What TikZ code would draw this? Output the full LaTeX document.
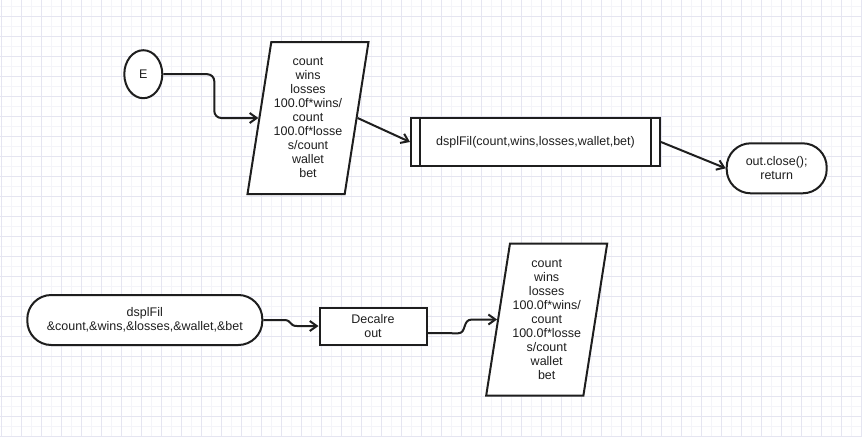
\documentclass[tikz,border=0pt]{standalone}
\usepackage{fontspec}
\setmainfont{Liberation Sans}
\usetikzlibrary{shapes.geometric,arrows.meta}
\definecolor{gridmajor}{RGB}{229,229,241}
\definecolor{gridminor}{RGB}{244,244,249}
\definecolor{ink}{RGB}{30,30,30}
\begin{document}
\begin{tikzpicture}[x=1pt,y=-1pt,
  every node/.style={font=\fontsize{12.5}{14}\selectfont, text=ink, align=center},
  shp/.style={draw=ink, line width=2pt, fill=white, inner sep=0pt},
  iobox/.style={shp, trapezium, trapezium left angle=78.8, trapezium right angle=101.2,
    trapezium stretches body, minimum width=121pt, minimum height=152pt},
  procbox/.style={shp, rectangle},
  termbox/.style={shp, rectangle, rounded corners=24pt, minimum height=50pt},
  startnode/.style={shp, ellipse, minimum width=38pt, minimum height=48pt},
  edge/.style={draw=ink, line width=2pt, -{Straight Barb[length=7pt,width=10pt]}}
]
% paper and grid
\useasboundingbox (0,0) rectangle (862,437);
\fill[white] (0,0) rectangle (862,437);
\foreach \i in {0,...,86} {
  \draw[gridminor, line width=0.7pt] ({\i*10+1.7},0) -- ({\i*10+1.7},437);
}
\foreach \j in {-1,...,43} {
  \draw[gridminor, line width=0.7pt] (0,{\j*10+6.7}) -- (862,{\j*10+6.7});
}
\foreach \i in {0,...,43} {
  \draw[gridmajor, line width=0.9pt] ({\i*20+1.7},0) -- ({\i*20+1.7},437);
}
\foreach \j in {0,...,21} {
  \draw[gridmajor, line width=0.9pt] (0,{\j*20+16.7}) -- (862,{\j*20+16.7});
}

% upper flow
\node[startnode] (E) at (143.3,74.2) {E};
\node[iobox] (p1) at (308,118) {count\\wins\\losses\\100.0f*wins/\\count\\100.0f*losse\\s/count\\wallet\\bet};
\node[procbox, minimum width=249pt, minimum height=48pt] (s1) at (535.5,142) {dsplFil(count,wins,losses,wallet,bet)};
\draw[ink, line width=2pt] ([xshift=10pt]s1.north west) -- ([xshift=10pt]s1.south west)
  ([xshift=-10pt]s1.north east) -- ([xshift=-10pt]s1.south east);
\node[termbox, minimum width=100pt] (t1) at (776.7,168.3) {out.close();\\return};

\draw[edge, rounded corners=7pt] (E.east) -- ++(51,0) |- (p1.left side);
\draw[edge] (p1.right side) -- (s1.west);
\draw[edge] (s1.east) -- (t1.west);

% lower flow
\node[termbox, minimum width=235pt] (t2) at (144.8,320) {dsplFil\\\&count,\&wins,\&losses,\&wallet,\&bet};
\node[procbox, minimum width=107pt, minimum height=37pt] (b2) at (373,326) {Decalre\\out};
\node[iobox] (p2) at (546.7,319.5) {count\\wins\\losses\\100.0f*wins/\\count\\100.0f*losse\\s/count\\wallet\\bet};

\draw[edge] (t2.east) -- (284,320) .. controls (292,320) and (289,326) .. (297,326) -- (b2.west);
\draw[edge] ([yshift=-7pt]b2.east) -- (458,333.3) .. controls (467,333.3) and (462,319.5) .. (472,319.5) -- (p2.left side);
\end{tikzpicture}
\end{document}
